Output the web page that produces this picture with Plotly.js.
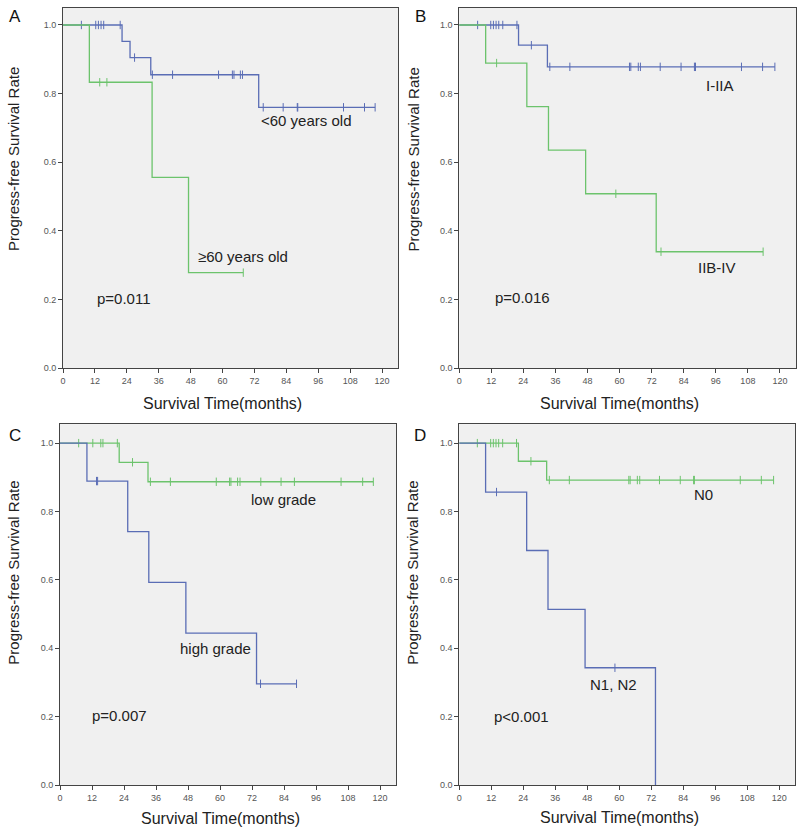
<!DOCTYPE html>
<html>
<head>
<meta charset="utf-8">
<script src="https://cdn.plot.ly/plotly-3.0.1.min.js"></script>
<style>
  body { margin: 0; background: #fff; }
  #km { width: 800px; height: 830px; }
</style>
</head>
<body>
<div id="km"></div>
<script>
// Kaplan-Meier curves: drop times (months), survival after each drop, censor times

// A - age
var aYoungDrop = [22.2, 25.2, 33.0, 73.6];
var aYoungSurv = [0.952, 0.905, 0.855, 0.760];
var aYoungCens = [6.9, 12.3, 13.3, 14.3, 15.3, 21.5, 26.9, 33.6, 41.2, 58.5, 63.7, 64.3, 66.7, 67.5, 75.3, 82.8, 88.1, 88.3, 105.5, 113.4, 117.4];
var aOldDrop = [9.9, 33.5, 47.2];
var aOldSurv = [0.833, 0.556, 0.278];
var aOldCens = [13.8, 16.5, 67.8];

// B - stage
var bEarlyDrop = [22.2, 33.0];
var bEarlySurv = [0.941, 0.878];
var bEarlyCens = [6.9, 11.8, 12.8, 13.8, 14.8, 16.3, 21.6, 27.0, 33.9, 41.4, 63.7, 64.2, 67.0, 67.8, 75.2, 83.0, 88.0, 88.4, 105.6, 113.5, 118.1];
var bLateDrop = [9.9, 25.3, 33.4, 47.3, 73.7];
var bLateSurv = [0.889, 0.762, 0.635, 0.508, 0.339];
var bLateCens = [14.0, 58.6, 75.5, 113.7];

// C - grade
var cLowDrop = [22.2, 33.0];
var cLowSurv = [0.944, 0.887];
var cLowCens = [7.0, 12.3, 15.3, 16.1, 21.5, 27.2, 33.9, 41.4, 58.6, 63.6, 64.1, 66.6, 67.5, 75.3, 82.9, 87.9, 105.4, 113.5, 117.5];
var cHighDrop = [10.1, 25.4, 33.3, 47.2, 73.7];
var cHighSurv = [0.889, 0.741, 0.593, 0.444, 0.296];
var cHighCens = [13.7, 14.1, 75.2, 88.7];

// D - nodes
var dN0Drop = [22.2, 32.8];
var dN0Surv = [0.947, 0.892];
var dN0Cens = [6.8, 11.8, 12.8, 13.8, 14.8, 16.3, 21.5, 26.9, 33.8, 41.3, 63.6, 64.1, 66.8, 67.7, 75.1, 82.9, 87.9, 88.2, 105.4, 113.3, 117.9];
var dN12Drop = [9.9, 25.3, 33.3, 47.2, 73.6];
var dN12Surv = [0.857, 0.686, 0.514, 0.343, 0.0];
var dN12Cens = [14.0, 58.4];

var blue = '#5a6db5';
var green = '#6cc36c';

function survAt(t, drops, survs) {
    var s = 1;
    for (var i = 0; i < drops.length; i++) {
        if (drops[i] <= t) s = survs[i];
    }
    return s;
}

function kmTraces(drops, survs, cens, col, xa, ya) {
    var last = Math.max(drops[drops.length - 1], cens.length ? cens[cens.length - 1] : 0);
    var lx = [0].concat(drops, [last]);
    var ly = [1].concat(survs, [survAt(last, drops, survs)]);
    var line = {x: lx, y: ly, xaxis: xa, yaxis: ya, type: 'scatter', mode: 'lines',
        line: {shape: 'hv', color: col, width: 1.3}, hoverinfo: 'skip'};
    var marks = {x: cens, y: cens.map(function (t) { return survAt(t, drops, survs); }),
        xaxis: xa, yaxis: ya, type: 'scatter', mode: 'markers',
        marker: {symbol: 'line-ns', size: 6, color: col, line: {width: 1, color: col}}, hoverinfo: 'skip'};
    return [line, marks];
}

var data = [].concat(
    kmTraces(aYoungDrop, aYoungSurv, aYoungCens, blue, 'x', 'y'),
    kmTraces(aOldDrop, aOldSurv, aOldCens, green, 'x', 'y'),
    kmTraces(bEarlyDrop, bEarlySurv, bEarlyCens, blue, 'x2', 'y2'),
    kmTraces(bLateDrop, bLateSurv, bLateCens, green, 'x2', 'y2'),
    kmTraces(cLowDrop, cLowSurv, cLowCens, green, 'x3', 'y3'),
    kmTraces(cHighDrop, cHighSurv, cHighCens, blue, 'x3', 'y3'),
    kmTraces(dN0Drop, dN0Surv, dN0Cens, green, 'x4', 'y4'),
    kmTraces(dN12Drop, dN12Surv, dN12Cens, blue, 'x4', 'y4')
);

var font = 'Arial, "Liberation Sans", sans-serif';

function xAx(dom, anchor) {
    return {domain: dom, anchor: anchor, range: [0, 126], dtick: 12, tick0: 0,
        showgrid: false, zeroline: false, showline: true, mirror: true, linecolor: '#444', linewidth: 1,
        ticks: 'outside', ticklen: 4, tickcolor: '#444',
        tickfont: {size: 9, color: '#555', family: font}};
}
function yAx(dom, anchor, top) {
    return {domain: dom, anchor: anchor, range: [0, top], tickvals: [0, 0.2, 0.4, 0.6, 0.8, 1.0],
        tickformat: '.1f', showgrid: false, zeroline: false, showline: true, mirror: true,
        linecolor: '#444', linewidth: 1, ticks: 'outside', ticklen: 4, tickcolor: '#444',
        tickfont: {size: 9, color: '#555', family: font}};
}

function note(txt, x, y, xr, yr) {
    return {text: txt, x: x, y: y, xref: xr, yref: yr, xanchor: 'left', yanchor: 'middle',
        showarrow: false, font: {size: 15, color: '#222', family: font}};
}
function panel(txt, x, y) {
    return {text: txt, x: x, y: y, xref: 'paper', yref: 'paper', xanchor: 'center', yanchor: 'middle',
        showarrow: false, font: {size: 17, color: '#111', family: font}};
}
// axis titles sit off-centre in the original, so they are placed by hand
function xTitle(xr, py) {
    return {text: 'Survival Time(months)', x: 60, y: 1 - py / 830, xref: xr, yref: 'paper',
        xanchor: 'center', yanchor: 'middle', showarrow: false,
        font: {size: 16, color: '#222', family: font}};
}
function yTitle(yr, px, v) {
    return {text: 'Progress-free Survival Rate', x: px / 800, y: v, xref: 'paper', yref: yr,
        xanchor: 'center', yanchor: 'middle', textangle: -90, showarrow: false,
        font: {size: 15, color: '#222', family: font}};
}

var layout = {
    width: 800, height: 830, margin: {l: 0, r: 0, t: 0, b: 0},
    paper_bgcolor: '#fff', plot_bgcolor: '#f0f0f0', showlegend: false,
    xaxis: xAx([0.0788, 0.4975], 'y'), yaxis: yAx([0.5566, 0.9904], 'x', 1.0496),
    xaxis2: xAx([0.574, 0.995], 'y2'), yaxis2: yAx([0.5566, 0.9904], 'x2', 1.0496),
    xaxis3: xAx([0.075, 0.495], 'y3'), yaxis3: yAx([0.0542, 0.489], 'x3', 1.0556),
    xaxis4: xAx([0.574, 0.994], 'y4'), yaxis4: yAx([0.0542, 0.489], 'x4', 1.0556),
    annotations: [
        note('&lt;60 years old', 73.7, 0.723, 'x', 'y'),
        note('≥60 years old', 50, 0.325, 'x', 'y'),
        note('p=0.011', 12, 0.204, 'x', 'y'),
        note('I-IIA', 91.4, 0.825, 'x2', 'y2'),
        note('IIB-IV', 88.7, 0.294, 'x2', 'y2'),
        note('p=0.016', 12.8, 0.207, 'x2', 'y2'),
        note('low grade', 70.9, 0.836, 'x3', 'y3'),
        note('high grade', 44.3, 0.398, 'x3', 'y3'),
        note('p=0.007', 11.3, 0.202, 'x3', 'y3'),
        note('N0', 87.4, 0.851, 'x4', 'y4'),
        note('N1, N2', 48.4, 0.295, 'x4', 'y4'),
        note('p&lt;0.001', 12.4, 0.199, 'x4', 'y4'),
        xTitle('x', 404), xTitle('x2', 404), xTitle('x3', 818), xTitle('x4', 817),
        yTitle('y', 13.5, 0.608), yTitle('y2', 413, 0.608),
        yTitle('y3', 14, 0.621), yTitle('y4', 413, 0.621),
        panel('A', 15 / 800, 1 - 16 / 830),
        panel('B', 420 / 800, 1 - 16 / 830),
        panel('C', 15 / 800, 1 - 435 / 830),
        panel('D', 420 / 800, 1 - 435 / 830)
    ]
};

Plotly.newPlot('km', data, layout, {displayModeBar: false, staticPlot: true});
</script>
</body>
</html>
